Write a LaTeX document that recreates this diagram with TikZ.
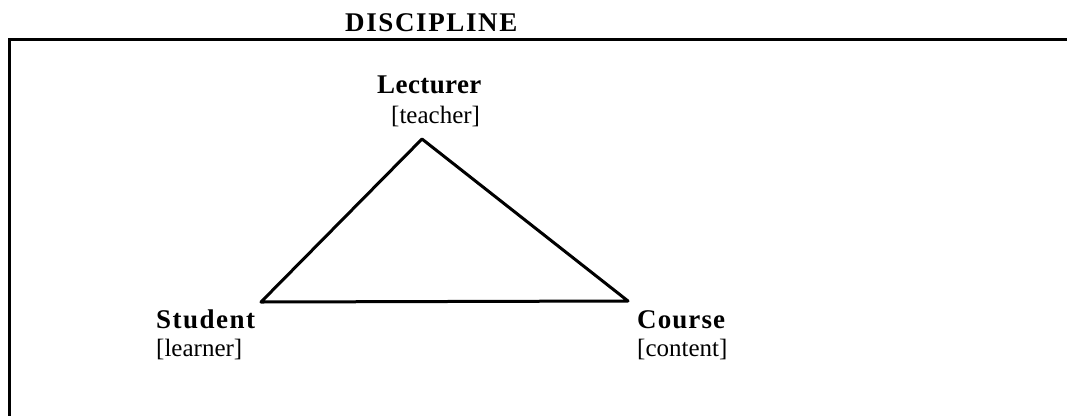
\documentclass[tikz,border=0pt]{standalone}
\usepackage{fontspec}
\setmainfont{Liberation Serif}
\begin{document}
\begin{tikzpicture}[x=1bp,y=-1bp,
  lbl/.style={inner sep=0pt,anchor=base west,font=\fontsize{25bp}{30bp}\selectfont},
  blbl/.style={inner sep=0pt,anchor=base west,font=\fontsize{27bp}{32bp}\selectfont\bfseries},
  edge/.style={line width=3bp,line join=round,line cap=round}]
\useasboundingbox (0,0) rectangle (1067,416);
% frame (open to right and bottom)
\coordinate (ftr) at (1067,39);
\coordinate (ftl) at (9,39);
\coordinate (fbl) at (9,416);
\draw[line width=3bp] (ftr) -- (ftl) -- (fbl);
% titles
\node[blbl] (disc) at (345,31) {\addfontfeature{LetterSpace=6}DISCIPLINE};
\node[blbl] (lect) at (377,93) {\addfontfeature{LetterSpace=1.5}Lecturer};
\node[lbl] (teach) at (391,123) {[teacher]};
\node[blbl] (stud) at (156,328) {\addfontfeature{LetterSpace=5.5}Student};
\node[lbl] (learn) at (156,356) {[learner]};
\node[blbl] (cour) at (637,328) {\addfontfeature{LetterSpace=4}Course};
\node[lbl] (cont) at (637,356) {[content]};
% triangle
\coordinate (L) at (422,139);
\coordinate (S) at (261,302);
\coordinate (C) at (628,301);
\draw[edge] (L) -- (S) -- (C) -- cycle;
\end{tikzpicture}
\end{document}
